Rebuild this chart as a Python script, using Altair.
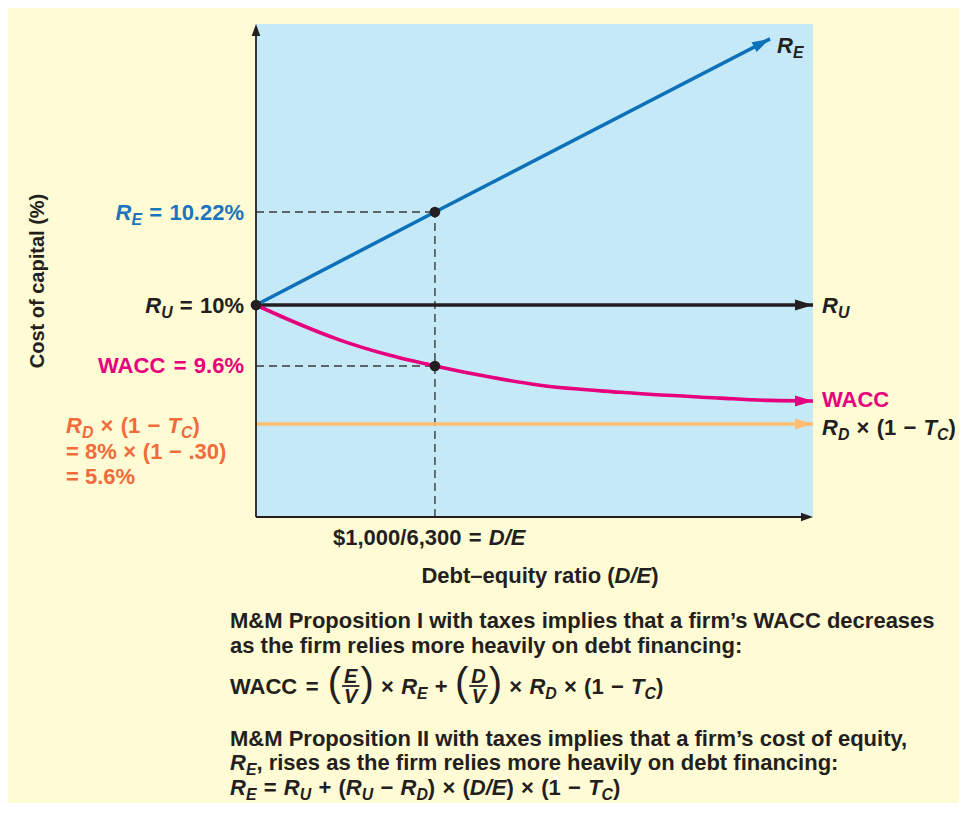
import altair as alt
import pandas as pd

# ---------------- data ----------------
de_marked = 0.1587            # D/E = $1,000 / 6,300
x_max = 0.494                 # right end of the D/E axis
y_top = 10.665                # top of the schematic cost-of-capital axis

re_x = [0.0, 0.1587, 0.4559]
re_y = [10.0, 10.22, 10.63]
ru_x = [0.0, 0.494]
ru_y = [10.0, 10.0]
wacc_x = [0.0, 0.0302, 0.0745, 0.1188, 0.1587, 0.2075, 0.2519, 0.3228, 0.4115, 0.4559, 0.494]
wacc_y = [10.0, 9.90, 9.77, 9.67, 9.60, 9.41, 9.27, 9.15, 9.05, 9.01, 9.00]
rd_x = [0.0, 0.494]
rd_y = [5.6, 5.6]
dots_x = [0.0, 0.1587, 0.1587]
dots_y = [10.0, 10.22, 9.6]

# the original's vertical axis is schematic (not to scale): piecewise breakpoints
y_breaks = [0, 5.6, 9.0, 9.6, 10.0, 10.22, 10.665]
y_pixels = [493, 400, 377, 342, 281, 188, 0]

# ---------------- style ----------------
BLACK = "#231F20"
BLUE = "#0D71B9"
BLUE_T = "#1B75BC"
MAGENTA = "#E6007E"
ORANGE_L = "#FDBF6F"
ORANGE_T = "#F26B3A"
PLOT_BG = "#C6E9F8"
PAGE_BG = "#FFFBD4"
FONT = "Liberation Sans"
OX, OY = 256, 24   # page position of the plot area's top-left corner

xs = alt.Scale(domain=[0, x_max], nice=False, zero=False)
ys = alt.Scale(domain=y_breaks, range=y_pixels, nice=False, zero=False)


def X(f="x"):
    return alt.X(f + ":Q", scale=xs, axis=None)


def Y(f="y"):
    return alt.Y(f + ":Q", scale=ys, axis=None)


def series(xv, yv, color, width=3.6, interp="linear"):
    df = pd.DataFrame({"x": xv, "y": yv})
    return alt.Chart(df).mark_line(color=color, strokeWidth=width, interpolate=interp,
                                   strokeCap="butt").encode(x=X(), y=Y())


# ---------------- text layout helpers ----------------
BW = {' ': 278, '!': 333, '$': 556, '%': 889, '&': 722, "'": 238, '(': 333, ')': 333,
      '+': 584, ',': 278, '-': 333, '.': 278, '/': 278, ':': 333, '=': 584,
      'A': 722, 'B': 722, 'C': 722, 'D': 722, 'E': 667, 'F': 611, 'G': 778, 'H': 722,
      'I': 278, 'M': 833, 'P': 667, 'R': 722, 'T': 611, 'U': 722, 'V': 667, 'W': 944,
      'a': 556, 'b': 611, 'c': 556, 'd': 611, 'e': 556, 'f': 333, 'g': 611, 'h': 611,
      'i': 278, 'j': 278, 'k': 556, 'l': 278, 'm': 889, 'n': 611, 'o': 611, 'p': 611,
      'q': 611, 'r': 389, 's': 556, 't': 333, 'u': 611, 'v': 556, 'w': 778, 'x': 556,
      'y': 556, 'z': 500, '\u2019': 278, '\u2013': 556, '\u00d7': 584, '\u2212': 584}
for d in '0123456789':
    BW[d] = 556


def width(t, size):
    return sum(BW.get(c, 556) for c in t) / 1000.0 * size


rows = []
bars = []


def add(text, x, y, size, color, italic=False, bold=True):
    lead = len(text) - len(text.lstrip(' '))
    x += width(' ' * lead, size)
    t = text.strip(' ')
    if t:
        rows.append(dict(px=x - OX, py=y - OY, text=t, size=size, color=color,
                         italic=italic, bold=bold))


def layout(parts, x0, base, size, color, align="left", gap=0.33):
    sub = 0.72 * size
    items = []
    for kind, txt in parts:
        if kind == "n":
            items.append(("t", txt, size, False, 0, width(txt, size)))
        elif kind == "i":
            items.append(("t", txt, size, True, 0, width(txt, size)))
        elif kind == "s":
            items.append(("t", txt, sub, True, 0.22 * size, width(txt, sub)))
        elif kind == "o":
            items.append(("o", txt, size, False, 0, width(txt, size) + 2 * gap * size))
    total = sum(it[5] for it in items)
    if align == "right":
        x = x0 - total
    elif align == "center":
        x = x0 - total / 2
    else:
        x = x0
    for k, txt, s, it, dy, wd in items:
        if k == "o":
            add(txt, x + gap * s, base, s, color, False)
        else:
            add(txt, x, base + dy, s, color, it)
        x += wd
    return x


# left-hand value labels
layout([("i", "R"), ("s", "E"), ("o", "="), ("n", "10.22%")], 244, 220, 22, BLUE_T, "right")
layout([("i", "R"), ("s", "U"), ("o", "="), ("n", "10%")], 244, 313, 22, BLACK, "right")
layout([("n", "WACC"), ("o", "="), ("n", "9.6%")], 244, 373, 22, MAGENTA, "right")
layout([("i", "R"), ("s", "D"), ("o", "\u00d7"), ("n", "(1"), ("o", "\u2212"), ("i", "T"),
        ("s", "C"), ("n", ")")], 66, 433, 22, ORANGE_T)
layout([("n", "= 8%"), ("o", "\u00d7"), ("n", "(1"), ("o", "\u2212"),
        ("n", ".30)")], 66, 459, 22, ORANGE_T, gap=0.3)
layout([("n", "= 5.6%")], 66, 484, 22, ORANGE_T)

# right-hand series labels
layout([("i", "R"), ("s", "E")], 777, 53, 22, BLACK)
layout([("i", "R"), ("s", "U")], 822, 313, 22, BLACK)
layout([("n", "WACC")], 822, 407, 22, MAGENTA)
layout([("i", "R"), ("s", "D"), ("o", "\u00d7"), ("n", "(1"), ("o", "\u2212"), ("i", "T"),
        ("s", "C"), ("n", ")")], 822, 435, 22, BLACK)

# x-axis texts
layout([("n", "$1,000/6,300"), ("o", "="), ("i", "D/E")], 333, 545, 22, BLACK)
layout([("n", "Debt\u2013equity ratio ("), ("i", "D/E"), ("n", ")")], 540, 583, 22, BLACK, "center")

# explanatory paragraph
PS = 22
layout([("n", "M&M Proposition I with taxes implies that a firm\u2019s WACC decreases")], 230, 628, PS, BLACK)
layout([("n", "as the firm relies more heavily on debt financing:")], 230, 653, PS, BLACK)

# WACC formula with stacked fractions
FB = 686
x = layout([("n", "WACC"), ("o", "=")], 230, 694, PS, BLACK)


def paren(ch, x):
    add(ch, x, FB + 0.258 * 40, 40, BLACK, False, False)
    return x + width(ch, 40)


def frac(num, den, x):
    fs = 20
    box = max(width(num, fs), width(den, fs)) + 0.3 * fs
    add(num, x + (box - width(num, fs)) / 2, FB - 3, fs, BLACK, True)
    add(den, x + (box - width(den, fs)) / 2, FB + 17, fs, BLACK, True)
    bars.append(dict(px=x + 1 - OX, px2=x + box - 1 - OX, py=FB - OY))
    return x + box


x = paren("(", x + 2)
x = frac("E", "V", x)
x = paren(")", x)
x = layout([("o", "\u00d7"), ("i", "R"), ("s", "E"), ("o", "+")], x, 694, PS, BLACK)
x = paren("(", x)
x = frac("D", "V", x)
x = paren(")", x)
layout([("o", "\u00d7"), ("i", "R"), ("s", "D"), ("o", "\u00d7"), ("n", "(1"), ("o", "\u2212"),
        ("i", "T"), ("s", "C"), ("n", ")")], x, 694, PS, BLACK)

layout([("n", "M&M Proposition II with taxes implies that a firm\u2019s cost of equity,")], 230, 746, PS, BLACK)
layout([("i", "R"), ("s", "E"), ("n", ", rises as the firm relies more heavily on debt financing:")], 230, 770, PS, BLACK)
layout([("i", "R"), ("s", "E"), ("o", "="), ("i", "R"), ("s", "U"), ("o", "+"), ("n", "("), ("i", "R"),
        ("s", "U"), ("o", "\u2212"), ("i", "R"), ("s", "D"), ("n", ")"), ("o", "\u00d7"),
        ("n", "("), ("i", "D/E"), ("n", ")"), ("o", "\u00d7"), ("n", "(1"), ("o", "\u2212"),
        ("i", "T"), ("s", "C"), ("n", ")")], 230, 795, PS, BLACK)

# ---------------- chart layers ----------------
layers = []

# dashed guide lines
dash = dict(color="#3A3A3A", strokeWidth=1.4, strokeDash=[8, 5])
hdash = pd.DataFrame({"x": [0.0, 0.0], "x2": [dots_x[1], dots_x[2]], "y": [dots_y[1], dots_y[2]]})
layers.append(alt.Chart(hdash).mark_rule(**dash).encode(x=X(), x2="x2:Q", y=Y()))
vdash = pd.DataFrame({"x": [de_marked], "y": [0.0], "y2": [dots_y[1]]})
layers.append(alt.Chart(vdash).mark_rule(**dash).encode(x=X(), y=Y(), y2="y2:Q"))

# the series
layers.append(series(rd_x, rd_y, ORANGE_L))
layers.append(series(ru_x, ru_y, BLACK))
layers.append(series(re_x, re_y, BLUE))
layers.append(series(wacc_x, wacc_y, MAGENTA, interp="monotone"))

# axis lines
axes = pd.DataFrame({"x": [0.0, 0.0], "x2": [0.0, x_max - 0.01], "y": [0.0, 0.0],
                     "y2": [y_top - 0.02, 0.0]})
layers.append(alt.Chart(axes).mark_rule(color=BLACK, strokeWidth=1.8).encode(
    x=X(), x2="x2:Q", y=Y(), y2="y2:Q"))

# arrow heads
big_arrow = pd.DataFrame({"x": [re_x[-1], ru_x[-1], wacc_x[-1], rd_x[-1]],
                          "y": [re_y[-1], ru_y[-1], wacc_y[-1], rd_y[-1]],
                          "ang": [332.5, 0, 0, 0],
                          "col": [BLUE, BLACK, MAGENTA, ORANGE_L]})
layers.append(alt.Chart(big_arrow).mark_point(
    shape="M0,0L-1,-0.3L-1,0.3Z", filled=True, size=1296, opacity=1, strokeWidth=0).encode(
    x=X(), y=Y(), angle=alt.Angle("ang:Q", scale=None),
    color=alt.Color("col:N", scale=None, legend=None)))
axis_arrow = pd.DataFrame({"x": [0.0, x_max], "y": [y_top, 0.0], "ang": [270, 0]})
layers.append(alt.Chart(axis_arrow).mark_point(
    shape="M0,0L-1,-0.36L-1,0.36Z", filled=True, size=576, opacity=1, strokeWidth=0,
    color=BLACK).encode(x=X(), y=Y(), angle=alt.Angle("ang:Q", scale=None)))

# marked points
dots = pd.DataFrame({"x": dots_x, "y": dots_y})
layers.append(alt.Chart(dots).mark_circle(size=115, color=BLACK, opacity=1).encode(x=X(), y=Y()))

# fraction bars (pixel positions)
layers.append(alt.Chart(pd.DataFrame(bars)).mark_rule(color=BLACK, strokeWidth=1.8).encode(
    x=alt.X("px:Q", scale=None, axis=None), x2="px2:Q", y=alt.Y("py:Q", scale=None, axis=None)))

# text layers
tdf = pd.DataFrame(rows)
for (it, bd), g in tdf.groupby(["italic", "bold"]):
    layers.append(alt.Chart(g).mark_text(
        align="left", baseline="alphabetic", font=FONT,
        fontStyle="italic" if it else "normal", fontWeight="bold" if bd else "normal").encode(
        x=alt.X("px:Q", scale=None, axis=None), y=alt.Y("py:Q", scale=None, axis=None),
        text="text:N", size=alt.Size("size:Q", scale=None, legend=None),
        color=alt.Color("color:N", scale=None, legend=None)))

# rotated y-axis title
ytitle = pd.DataFrame({"px": [38 - OX], "py": [281 - OY], "text": ["Cost of capital (%)"]})
layers.append(alt.Chart(ytitle).mark_text(
    angle=270, align="center", baseline="middle", font=FONT, fontWeight="bold",
    fontSize=20, color=BLACK).encode(
    x=alt.X("px:Q", scale=None, axis=None), y=alt.Y("py:Q", scale=None, axis=None), text="text:N"))

chart = alt.layer(*layers).resolve_scale(x="independent", y="independent").properties(
    width=557, height=493,
    padding={"left": 248, "top": 16, "right": 146, "bottom": 286},
    autosize=alt.AutoSizeParams(type="none"),
    background=PAGE_BG,
).configure_view(fill=PLOT_BG, stroke=None)

chart.save("out.html", embed_options={"renderer": "svg", "actions": False})
